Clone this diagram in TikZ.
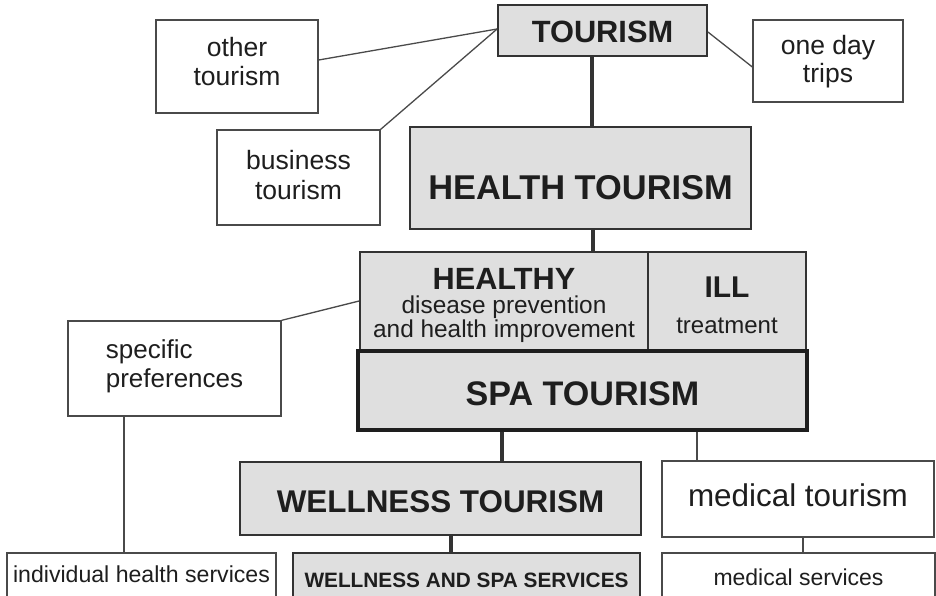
\documentclass[tikz,border=0pt]{standalone}
\usepackage{fontspec}
\setmainfont{Liberation Sans}
\usetikzlibrary{calc}
\definecolor{boxfill}{HTML}{DFDFDF}
\definecolor{boxline}{HTML}{333333}
\definecolor{thinline}{HTML}{4A4A4A}
\definecolor{inkc}{HTML}{1E1E1E}
\tikzset{
  graybox/.style={draw=boxline, fill=boxfill, line width=1.8pt, inner sep=0pt, align=center, text=inkc},
  whitebox/.style={draw=thinline, fill=white, line width=1.3pt, inner sep=0pt, align=center, text=inkc},
  thickconn/.style={draw=boxline, line width=4pt},
  thinconn/.style={draw=thinline, line width=1.3pt},
}
\begin{document}
\begin{tikzpicture}[x=1pt,y=-1pt]
\useasboundingbox (0,0) rectangle (936,596);
\begin{scope}
\clip (0,0) rectangle (936,596);
% boxes
\node[graybox, minimum width=209pt, minimum height=51pt, text height=24pt, text depth=0pt,
      font=\fontsize{30.8}{31}\selectfont\bfseries] (tour) at (602.5,30.5) {TOURISM};
\node[whitebox, minimum width=162pt, minimum height=93pt, text height=39pt, text depth=0pt,
      font=\fontsize{26.5}{29}\selectfont] (other) at (237,66.5) {other\\tourism};
\node[whitebox, minimum width=150pt, minimum height=82pt, text height=44pt, text depth=0pt,
      font=\fontsize{26.5}{28}\selectfont] (oneday) at (828,61) {one day\\trips};
\node[whitebox, minimum width=163pt, minimum height=95pt, text height=45pt, text depth=0pt,
      font=\fontsize{26.5}{30}\selectfont] (business) at (298.5,177.5) {business\\tourism};
\node[graybox, minimum width=341pt, minimum height=102pt, text height=44pt, text depth=0pt,
      font=\fontsize{34.4}{35}\selectfont\bfseries] (health) at (580.5,178) {HEALTH TOURISM};
\node[graybox, minimum width=288pt, minimum height=98pt, text height=72pt, text depth=0pt,
      font=\fontsize{24.4}{21}\selectfont] (healthy) at (504,301)
      {{\fontsize{30.7}{31}\selectfont\bfseries HEALTHY}\\[3pt]disease prevention\\and health improvement};
\node[graybox, minimum width=158pt, minimum height=98pt, text height=64pt, text depth=0pt,
      font=\fontsize{24}{36}\selectfont] (ill) at (727,301)
      {{\fontsize{30}{30}\selectfont\bfseries ILL}\\treatment};
\node[graybox, line width=4.5pt, draw=inkc, minimum width=449pt, minimum height=79pt, text height=29pt, text depth=0pt,
      font=\fontsize{34.1}{35}\selectfont\bfseries] (spa) at (582.5,390.5) {SPA TOURISM};
\node[whitebox, align=left, minimum width=213pt, minimum height=95pt, text height=37pt, text depth=0pt,
      font=\fontsize{26}{29}\selectfont] (specific) at (174.5,368.5) {specific\\preferences};
\node[graybox, minimum width=401pt, minimum height=73pt, text height=27pt, text depth=0pt,
      font=\fontsize{31.4}{32}\selectfont\bfseries] (wellness) at (440.5,498.5) {WELLNESS TOURISM};
\node[whitebox, minimum width=272pt, minimum height=76pt, text height=14pt, text depth=0pt,
      font=\fontsize{31.4}{32}\selectfont] (medical) at (798,499) {medical tourism};
\node[whitebox, minimum width=269pt, minimum height=54pt, text height=4pt, text depth=0pt,
      font=\fontsize{23.1}{24}\selectfont] (indiv) at (141.5,580) {individual health services};
\node[graybox, minimum width=347pt, minimum height=54pt, text height=14pt, text depth=0pt,
      font=\fontsize{20.8}{21}\selectfont\bfseries] (wspa) at (466.5,580) {WELLNESS AND SPA SERVICES};
\node[whitebox, minimum width=273pt, minimum height=54pt, text height=10pt, text depth=0pt,
      font=\fontsize{23}{24}\selectfont] (medserv) at (798.5,580) {medical services};
% connectors
\coordinate (c-th) at (592,0);
\coordinate (c-hh) at (593,0);
\coordinate (c-sp) at (124,0);
\coordinate (c-sw) at (502,0);
\coordinate (c-sm) at (697,0);
\coordinate (c-ww) at (451,0);
\coordinate (c-mm) at (803,0);
\draw[thickconn] (tour.south -| c-th) -- (health.north -| c-th);
\draw[thickconn] (health.south -| c-hh) -- (healthy.north -| c-hh);
\draw[thinconn] ($(other.east)+(0,-6.5)$) -- ($(tour.west)+(0,-1.5)$);
\draw[thinconn] (business.north east) -- ($(tour.west)+(0,-1.5)$);
\draw[thinconn] ($(tour.east)+(0,1.5)$) -- ($(oneday.west)+(0,6)$);
\draw[thinconn] (specific.north east) -- (healthy.west);
\draw[thinconn] (specific.south -| c-sp) -- (indiv.north -| c-sp);
\draw[thickconn] (spa.south -| c-sw) -- (wellness.north -| c-sw);
\draw[thinconn] (spa.south -| c-sm) -- (medical.north -| c-sm);
\draw[thickconn] (wellness.south -| c-ww) -- (wspa.north -| c-ww);
\draw[thinconn] (medical.south -| c-mm) -- (medserv.north -| c-mm);
\end{scope}
\end{tikzpicture}
\end{document}
